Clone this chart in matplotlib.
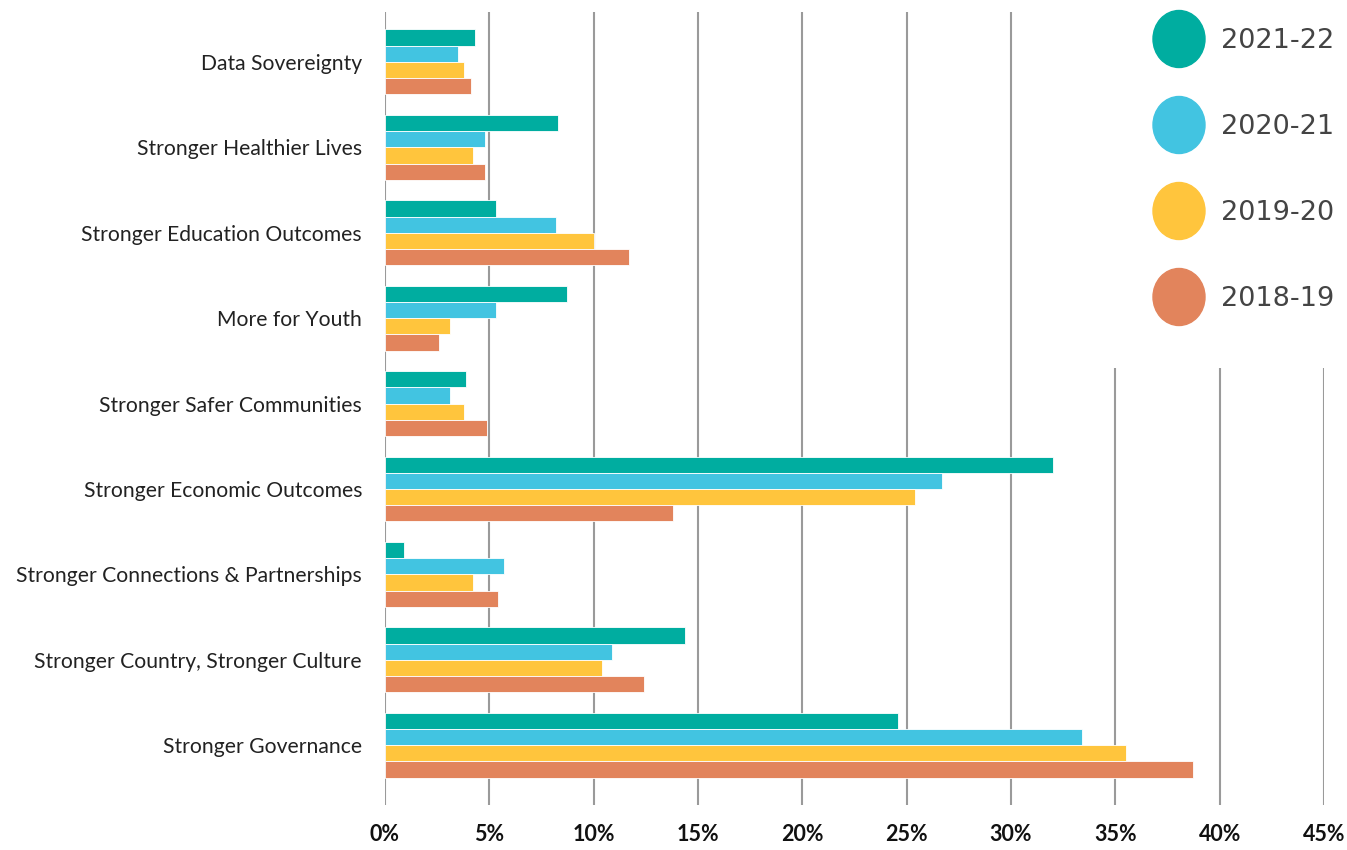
import matplotlib
matplotlib.use("Agg")
import matplotlib.pyplot as plt
from matplotlib.patches import Ellipse, Rectangle
from matplotlib.ticker import FuncFormatter
import numpy as np

categories = [
    "Data Sovereignty",
    "Stronger Healthier Lives",
    "Stronger Education Outcomes",
    "More for Youth",
    "Stronger Safer Communities",
    "Stronger Economic Outcomes",
    "Stronger Connections & Partnerships",
    "Stronger Country, Stronger Culture",
    "Stronger Governance",
]
years = ["2021-22", "2020-21", "2019-20", "2018-19"]
v_2021_22 = [4.3, 8.3, 5.3, 8.7, 3.9, 32.0, 0.9, 14.4, 24.6]
v_2020_21 = [3.5, 4.8, 8.2, 5.3, 3.1, 26.7, 5.7, 10.9, 33.4]
v_2019_20 = [3.8, 4.2, 10.0, 3.1, 3.8, 25.4, 4.2, 10.4, 35.5]
v_2018_19 = [4.1, 4.8, 11.7, 2.6, 4.9, 13.8, 5.4, 12.4, 38.7]
series = [v_2021_22, v_2020_21, v_2019_20, v_2018_19]
colors = ["#00ADA0", "#42C4E1", "#FFC53D", "#E2845C"]

plt.rcParams["font.family"] = ["Lato", "DejaVu Sans"]

fig = plt.figure(figsize=(13.47, 8.5), dpi=100)
ax = fig.add_axes([0.2858, 0.0529, 0.6971, 0.933])

y = np.arange(len(categories))
bh = 0.19
for k, (vals, c) in enumerate(zip(series, colors)):
    ax.barh(y + (k - 1.5) * bh, vals, height=bh, color=c, edgecolor="white",
            linewidth=0.6, zorder=3, label=years[k])

ax.set_xlim(0, 45)
ax.set_ylim(8.70, -0.585)
ax.set_xticks(np.arange(0, 46, 5))
ax.xaxis.set_major_formatter(FuncFormatter(lambda v, p: f"{v:.0f}%"))
ax.grid(axis="x", color="#9a9a9a", linewidth=1.5, zorder=0)
ax.set_yticks(y)
ax.set_yticklabels(categories, fontsize=15.2, color="#222222")
ax.tick_params(axis="y", length=0, pad=16.5)
ax.tick_params(axis="x", length=0, pad=14, labelsize=15.5, labelcolor="#111111")
for lab in ax.get_xticklabels():
    lab.set_fontweight("bold")
for s in ax.spines.values():
    s.set_visible(False)

# legend panel (covers gridlines top right)
lax = fig.add_axes([1100 / 1347, 1 - 368 / 850, 247 / 1347, 368 / 850], zorder=5)
lax.set_xlim(1100, 1347)
lax.set_ylim(368, 0)
lax.axis("off")
lax.add_patch(Rectangle((1100, 0), 247, 368, color="white", zorder=0))
for i, (yr, c) in enumerate(zip(years, colors)):
    cy = 39 + i * 86
    lax.add_patch(Ellipse((1179, cy), 52, 57, color=c, zorder=2))
    lax.text(1221, cy + 2, yr, fontsize=19.5, color="#444444", va="center",
             ha="left", family=["DejaVu Sans"])

fig.savefig("out.png", dpi=100)
